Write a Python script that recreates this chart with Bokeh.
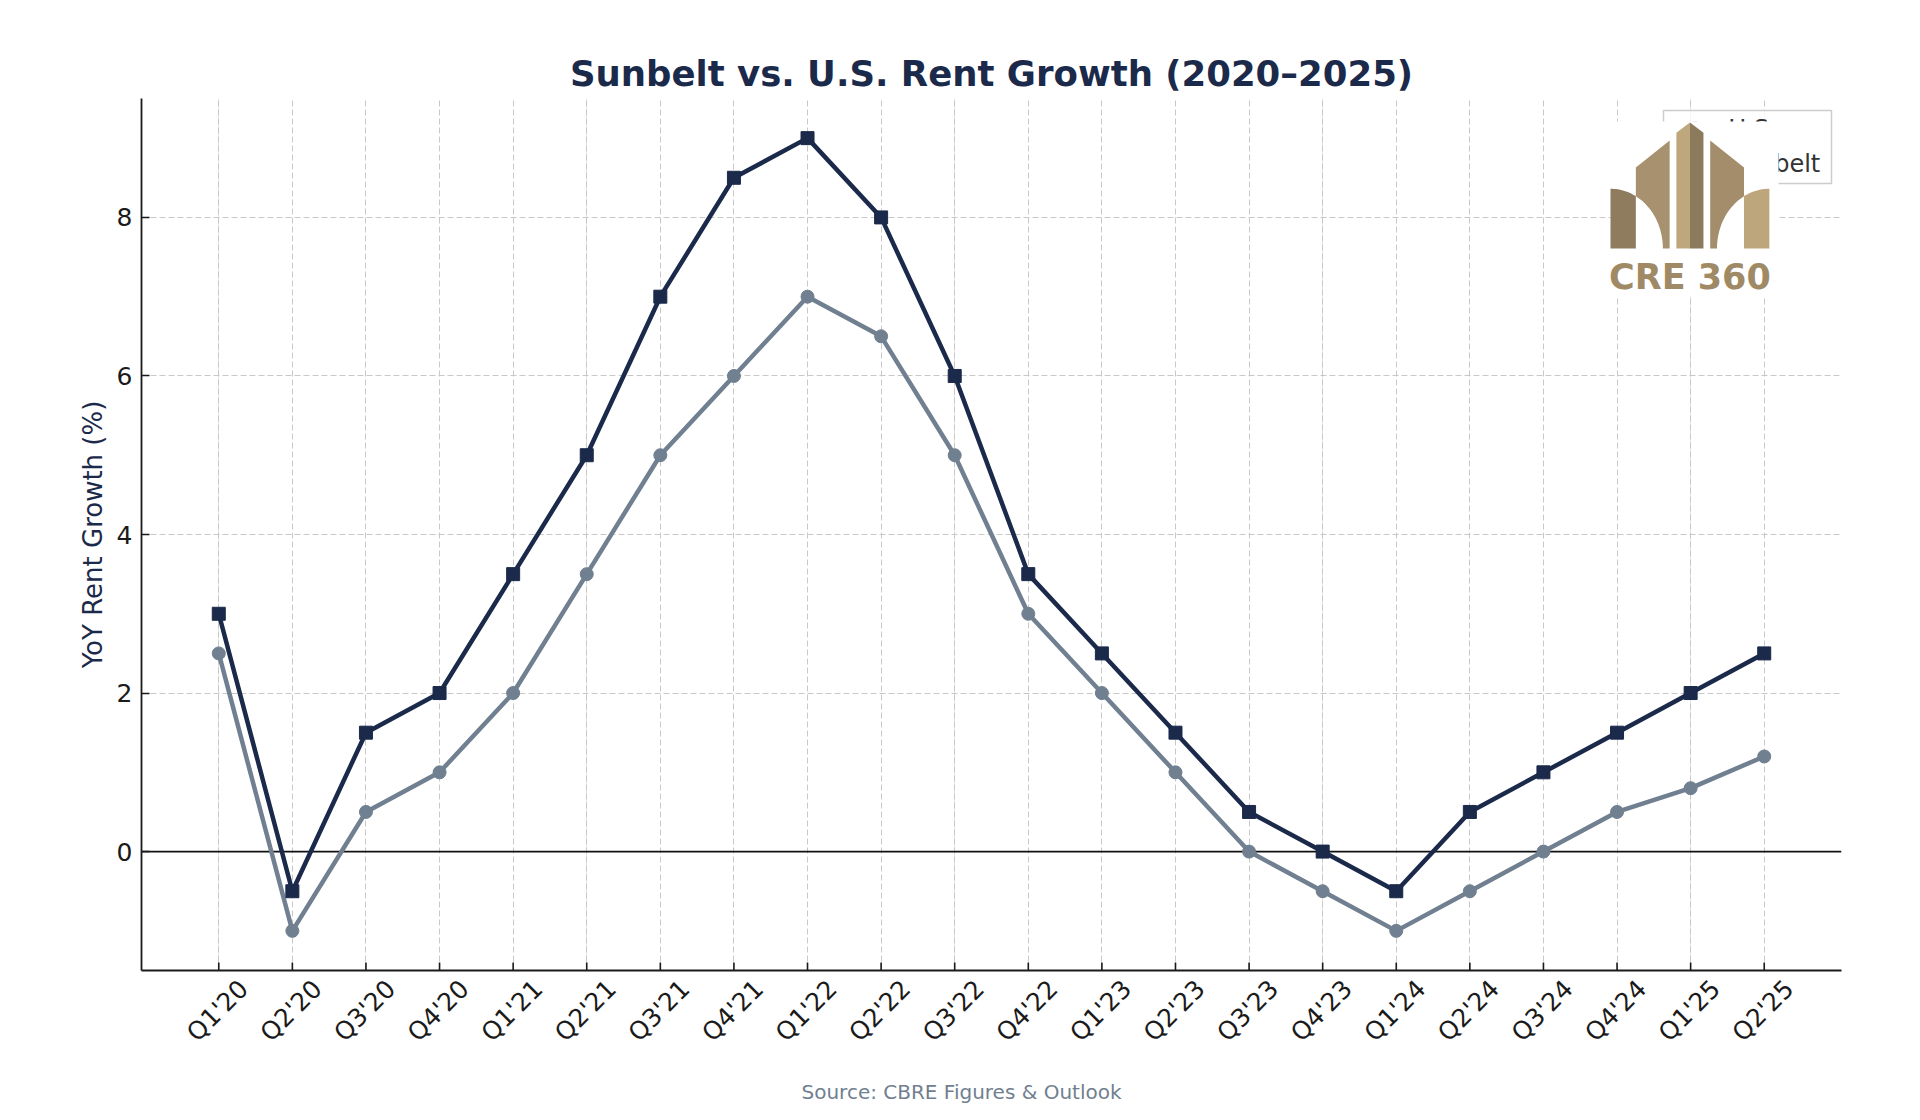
from math import pi
import numpy as np
from bokeh.plotting import figure
from bokeh.models import (ColumnDataSource, FixedTicker, Range1d, Span,
                          LinearAxis, Grid, Title)
from bokeh.core.properties import value
from bokeh.embed import file_html
from bokeh.resources import INLINE

quarters = ["Q1'20", "Q2'20", "Q3'20", "Q4'20",
            "Q1'21", "Q2'21", "Q3'21", "Q4'21",
            "Q1'22", "Q2'22", "Q3'22", "Q4'22",
            "Q1'23", "Q2'23", "Q3'23", "Q4'23",
            "Q1'24", "Q2'24", "Q3'24", "Q4'24",
            "Q1'25", "Q2'25"]
sunbelt = [3, -0.5, 1.5, 2, 3.5, 5, 7, 8.5, 9, 8, 6, 3.5,
           2.5, 1.5, 0.5, 0, -0.5, 0.5, 1, 1.5, 2, 2.5]
us = [2.5, -1, 0.5, 1, 2, 3.5, 5, 6, 7, 6.5, 5, 3,
      2, 1, 0, -0.5, -1, -0.5, 0, 0.5, 0.8, 1.2]
y_ticks = [0, 2, 4, 6, 8]
series_names = ["U.S.", "Sunbelt"]

NAVY = "#1b2a4a"
SLATE = "#708090"
INK = "#1a1a1a"
FONT = "DejaVu Sans"

# frame geometry (pixels)
FRAME_L, FRAME_T, FRAME_W, FRAME_H = 141, 98, 1700, 872
W, H = 1920, 1120

x_idx = list(range(len(quarters)))
source = ColumnDataSource(dict(x=x_idx, q=quarters, sunbelt=sunbelt, us=us))

x_lo, x_hi = -1.05, len(quarters) - 1 + 1.05
y_lo, y_hi = -1.5, 9.5
px_x = FRAME_W / (x_hi - x_lo)
px_y = FRAME_H / (y_hi - y_lo)


def page_to_data(px, py):
    return x_lo + (px - FRAME_L) / px_x, y_hi - (py - FRAME_T) / px_y


p = figure(width=W, height=H,
           x_range=Range1d(x_lo, x_hi), y_range=Range1d(y_lo, y_hi),
           x_axis_location=None,
           output_backend="svg", toolbar_location=None,
           min_border_left=FRAME_L, min_border_right=W - FRAME_L - FRAME_W,
           min_border_top=FRAME_T, min_border_bottom=H - FRAME_T - FRAME_H)

p.background_fill_color = "white"
p.border_fill_color = "white"
p.outline_line_color = None

p.title.text = "Sunbelt vs. U.S. Rent Growth (2020\u20132025)"
p.title.text_font = FONT
p.title.text_font_size = "35.5px"
p.title.text_font_style = "bold"
p.title.text_color = NAVY
p.title.align = "center"

xgrid = Grid(dimension=0, ticker=FixedTicker(ticks=x_idx))
p.add_layout(xgrid)
for g in (xgrid, p.ygrid[0]):
    g.grid_line_color = "#c8c8c8"
    g.grid_line_dash = "6 3"
    g.grid_line_width = 1

# quarter labels: matplotlib centres the rotated box on the tick, so the
# label axis runs on a slightly shifted range
shift = 25 / px_x
p.extra_x_ranges = {"labels": Range1d(x_lo - shift, x_hi - shift)}
xaxis = LinearAxis(x_range_name="labels", ticker=FixedTicker(ticks=x_idx),
                   major_label_overrides={i: q for i, q in enumerate(quarters)},
                   major_label_orientation=pi / 4)
xaxis.major_tick_line_color = None
xaxis.major_tick_in = 0
xaxis.major_tick_out = 0
xaxis.major_label_standoff = 14
p.add_layout(xaxis, "below")

p.yaxis.ticker = FixedTicker(ticks=y_ticks)
p.yaxis.major_tick_line_color = INK
p.yaxis.major_tick_line_width = 1.6
p.yaxis.major_tick_in = 8
p.yaxis.major_tick_out = 0
p.yaxis.major_label_standoff = 9
for ax in (xaxis, p.yaxis[0]):
    ax.axis_line_color = INK
    ax.axis_line_width = 1.8
    ax.minor_tick_line_color = None
    ax.major_label_text_font = FONT
    ax.major_label_text_font_size = "25px"
    ax.major_label_text_color = INK

p.yaxis.axis_label = "YoY Rent Growth (%)"
p.yaxis.axis_label_text_font = FONT
p.yaxis.axis_label_text_font_size = "26px"
p.yaxis.axis_label_text_font_style = "normal"
p.yaxis.axis_label_text_color = NAVY
p.yaxis.axis_label_standoff = 6

# inward tick marks on the bottom spine
p.segment(x0=x_idx, y0=[y_lo] * len(x_idx), x1=x_idx,
          y1=[y_lo + 8 / px_y] * len(x_idx), line_color=INK, line_width=1.6)

zero = Span(location=0, dimension="width", line_color="#111111",
            line_width=1.6, level="underlay")
p.add_layout(zero)

p.line("x", "us", source=source, line_color=SLATE, line_width=4.5)
p.scatter("x", "us", source=source, marker="circle", size=13,
          fill_color=SLATE, line_color=SLATE)
p.line("x", "sunbelt", source=source, line_color=NAVY, line_width=4.5)
p.scatter("x", "sunbelt", source=source, marker="square", size=13,
          fill_color=NAVY, line_color=NAVY)

# legend box (upper right); built from glyphs so the watermark can cover it
bx0, by0 = page_to_data(1663, 110)
bx1, by1 = page_to_data(1831, 183)
p.quad(left=[bx0], right=[bx1], top=[by0], bottom=[by1], fill_color="white",
       fill_alpha=0.8, line_color="#cccccc", line_width=1.5)
row_y = [page_to_data(0, 128)[1], page_to_data(0, 163)[1]]
gx0, _ = page_to_data(1673, 0)
gx1, _ = page_to_data(1717, 0)
gxm, _ = page_to_data(1695, 0)
tx0, _ = page_to_data(1728, 0)
for ry, col, mk in zip(row_y, [SLATE, NAVY], ["circle", "square"]):
    p.line([gx0, gx1], [ry, ry], line_color=col, line_width=4.5)
    p.scatter([gxm], [ry], marker=mk, size=13, fill_color=col, line_color=col)
p.text(x=[tx0, tx0], y=row_y, text=series_names, text_font=value(FONT),
       text_font_size="24px", text_color="#333333", text_align="left",
       text_baseline="middle")

# CRE 360 watermark logo on its white tile
wx0, wy0 = page_to_data(1610, 121)
wx1, wy1 = page_to_data(1778, 296)
p.quad(left=[wx0], right=[wx1], top=[wy0], bottom=[wy1], fill_color="white",
       line_color=None)

LOGO_L, LOGO_T, LOGO_S = 1610, 122, 0.338


def to_data(pts):
    xs, ys = [], []
    for u, v in pts:
        dx, dy = page_to_data(LOGO_L + u * LOGO_S, LOGO_T + v * LOGO_S)
        xs.append(dx)
        ys.append(dy)
    return xs, ys


t_cut = np.arccos(75 / 155)
arc_in = [(155 * np.cos(t), 373 - 177 * np.sin(t)) for t in np.linspace(0, t_cut, 16)]
arc_out = [(155 * np.cos(t), 373 - 177 * np.sin(t)) for t in np.linspace(pi / 2, t_cut, 16)]

left_outer = [(0, 373)] + arc_out + [(75, 373)]
left_mid = [(75, 133), (175, 53), (175, 373)] + arc_in
tower_l = [(195, 30), (235, 0), (235, 373), (195, 373)]
tower_r = [(235, 0), (275, 30), (275, 373), (235, 373)]


def mirror(pts):
    return [(470 - u, v) for u, v in pts]


pieces = [left_outer, left_mid, tower_l, tower_r, mirror(left_mid), mirror(left_outer)]
piece_colors = ["#8f7c5f", "#a8916e", "#bea77c", "#8c7a5c", "#a38d6b", "#bda67b"]
logo_xs, logo_ys = zip(*[to_data(pc) for pc in pieces])
p.patches(list(logo_xs), list(logo_ys), fill_color=piece_colors, line_color=None)

lx, ly = to_data([(235, 456)])
p.text(x=lx, y=ly, text=["CRE 360"], text_font=value(FONT),
       text_font_style="bold", text_font_size="35px", text_color="#a08a65",
       text_align="center", text_baseline="middle")

note = Title(text="Source: CBRE Figures & Outlook", align="left", offset=660,
             standoff=34, text_font=FONT, text_font_size="20px",
             text_font_style="normal", text_color=SLATE)
p.add_layout(note, "below")

open("out.html", "w").write(file_html(p, INLINE))
